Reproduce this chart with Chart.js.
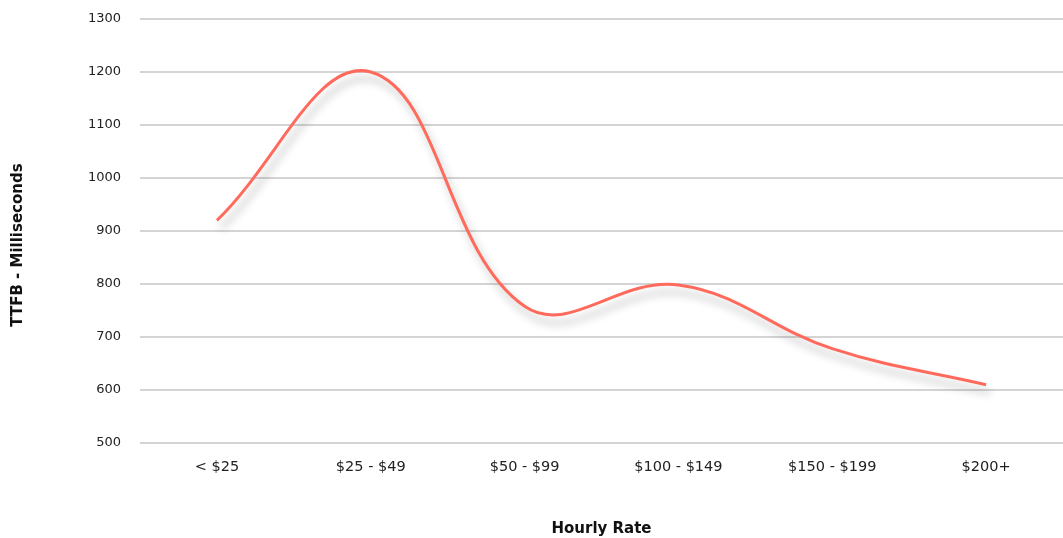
<!DOCTYPE html>
<html>
<head>
<meta charset="utf-8">
<script src="https://cdn.jsdelivr.net/npm/chart.js@4"></script>
<style>
  html, body { margin: 0; padding: 0; background: #ffffff; }
  #wrap { width: 1063px; height: 538px; position: relative; }
</style>
</head>
<body>
<div id="wrap"><canvas id="chart"></canvas></div>
<script>
// Hourly rate buckets and average time-to-first-byte (ms)
const categories = ['< $25', '$25 - $49', '$50 - $99', '$100 - $149', '$150 - $199', '$200+'];
const ttfbValues = [920, 1200, 758, 798, 678, 610];
const yTicks = [500, 600, 700, 800, 900, 1000, 1100, 1200, 1300];

const FONT = "'DejaVu Sans', 'Noto Sans', sans-serif";

// Soft drop shadow under the line
const lineShadow = {
  id: 'lineShadow',
  beforeDatasetDraw(chart) {
    const ctx = chart.ctx;
    ctx.save();
    ctx.shadowColor = 'rgba(0,0,0,0.28)';
    ctx.shadowBlur = 9;
    ctx.shadowOffsetX = 4;
    ctx.shadowOffsetY = 8;
  },
  afterDatasetDraw(chart) {
    chart.ctx.restore();
  }
};

// Nudge the vertical axis title a little lower than the plot's centre
function lowerTitle(axis) {
  if (axis._titleShifted) return;
  const draw = axis.drawTitle.bind(axis);
  axis.drawTitle = function () {
    const ctx = this.ctx;
    ctx.save();
    ctx.translate(0, 14);
    draw();
    ctx.restore();
  };
  axis._titleShifted = true;
}

new Chart(document.getElementById('chart'), {
  type: 'line',
  data: {
    labels: categories,
    datasets: [{
      data: ttfbValues,
      borderColor: '#ff6a5c',
      borderWidth: 3,
      pointRadius: 0,
      tension: 0.4,
      fill: false
    }]
  },
  options: {
    responsive: true,
    maintainAspectRatio: false,
    animation: false,
    layout: { autoPadding: false, padding: { top: 19, right: 0, bottom: 0, left: 0 } },
    plugins: { legend: { display: false }, tooltip: { enabled: false } },
    scales: {
      x: {
        offset: true,
        grid: { display: false, drawTicks: false },
        border: { display: false },
        afterFit(axis) { axis.height = 95; },
        ticks: { color: '#222', font: { family: FONT, size: 14.5 }, padding: 16 },
        title: {
          display: true, text: 'Hourly Rate', color: '#111',
          font: { family: FONT, size: 15, weight: 'bold' },
          padding: { top: 0, bottom: 0 }
        }
      },
      y: {
        min: 500, max: 1300,
        afterBuildTicks(axis) { axis.ticks = yTicks.map(v => ({ value: v })); },
        afterFit(axis) { axis.width = 140; axis.paddingTop = 0; axis.paddingBottom = 0; lowerTitle(axis); },
        grid: { color: '#d4d4d4', lineWidth: 2, drawTicks: false },
        border: { display: false },
        ticks: {
          color: '#222', font: { family: FONT, size: 13 }, padding: 19,
          callback: (v) => String(v)
        },
        title: {
          display: true, text: 'TTFB - Milliseconds', color: '#111',
          font: { family: FONT, size: 15, weight: 'bold' },
          padding: { top: 9, bottom: 0 }
        }
      }
    }
  },
  plugins: [lineShadow]
});
</script>
</body>
</html>
